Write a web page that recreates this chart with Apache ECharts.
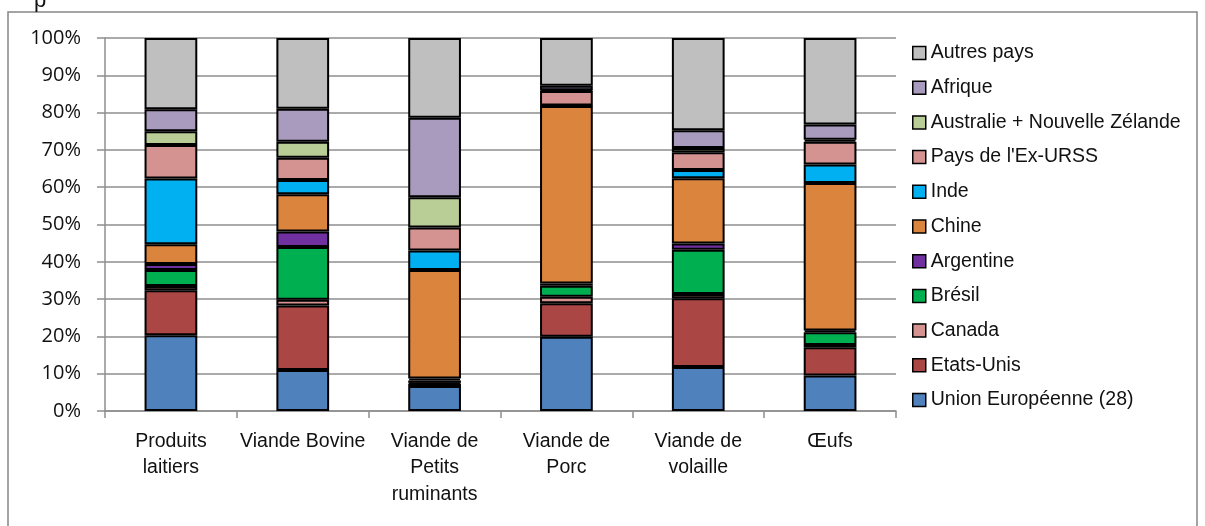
<!DOCTYPE html>
<html>
<head>
<meta charset="utf-8">
<script src="https://cdn.jsdelivr.net/npm/echarts@6.0.0/dist/echarts.min.js"></script>
<style>
  html, body { margin: 0; padding: 0; background: #fff; }
  #main { width: 1205px; height: 526px; }
</style>
</head>
<body>
<div id="main"></div>
<script>
// categories (x axis)
const categories = ['Produits\nlaitiers', 'Viande Bovine', 'Viande de\nPetits\nruminants', 'Viande de\nPorc', 'Viande de\nvolaille', 'Œufs']

// shares in %, bottom to top of each bar
const unionEuropeenne = [20.3, 11.0, 6.7, 19.9, 11.8, 9.5]
const etatsUnis = [12.1, 17.3, 0.6, 9.0, 18.4, 7.6]
const canada = [1.1, 1.5, 0.3, 1.7, 1.2, 0.6]
const bresil = [4.3, 14.2, 0.6, 3.0, 11.8, 3.4]
const argentine = [1.6, 4.1, 0.5, 0.6, 1.7, 0.5]
const chine = [5.3, 10.0, 29.1, 47.6, 17.5, 39.5]
const inde = [17.6, 3.8, 5.2, 0.1, 2.2, 5.0]
const exUrss = [9.0, 6.0, 6.2, 3.9, 4.8, 6.1]
const australieNz = [3.7, 4.3, 8.1, 0.2, 1.1, 0.5]
const afrique = [5.9, 8.8, 21.3, 1.2, 4.8, 4.1]
const autresPays = [19.1, 19.0, 21.4, 12.8, 24.7, 23.2]

const yTicks = [0, 10, 20, 30, 40, 50, 60, 70, 80, 90, 100]

const seriesDefs = [
  { name: 'Union Européenne (28)', data: unionEuropeenne, color: '#4F81BD' },
  { name: 'Etats-Unis', data: etatsUnis, color: '#AA4643' },
  { name: 'Canada', data: canada, color: '#D49290' },
  { name: 'Brésil', data: bresil, color: '#00B050' },
  { name: 'Argentine', data: argentine, color: '#7030A0' },
  { name: 'Chine', data: chine, color: '#DB843D' },
  { name: 'Inde', data: inde, color: '#00B0F0' },
  { name: "Pays de l'Ex-URSS", data: exUrss, color: '#D49290' },
  { name: 'Australie + Nouvelle Zélande', data: australieNz, color: '#B9CD96' },
  { name: 'Afrique', data: afrique, color: '#A99BBD' },
  { name: 'Autres pays', data: autresPays, color: '#BFBFBF' }
]

const textFont = "'Liberation Sans', Arial, sans-serif"

const myChart = echarts.init(document.getElementById('main'), null, { renderer: 'canvas' })
myChart.setOption({
  animation: false,
  backgroundColor: '#fff',
  graphic: [
    {
      type: 'rect',
      shape: { x: 8, y: 12, width: 1189, height: 540 },
      style: { fill: 'none', stroke: '#868686', lineWidth: 1.5 },
      silent: true
    },
    {
      // cut-off title fragment at the very top
      type: 'text',
      left: 34,
      top: -10,
      style: { text: 'p', font: "22px 'Liberation Sans', sans-serif", fill: '#111' },
      silent: true
    }
  ],
  grid: { left: 105, top: 38, width: 791, height: 373, containLabel: false },
  legend: {
    orient: 'vertical',
    left: 912,
    top: 41,
    padding: 0,
    itemWidth: 13,
    itemHeight: 13,
    itemGap: 10.7,
    icon: 'rect',
    data: seriesDefs.map(s => s.name).reverse(),
    itemStyle: { borderColor: '#000', borderWidth: 1.5 },
    textStyle: { fontFamily: textFont, fontSize: 19.5, color: '#111', lineHeight: 24 }
  },
  xAxis: {
    type: 'category',
    data: categories,
    axisLine: { lineStyle: { color: '#8e8e8e', width: 1.5 } },
    axisTick: { show: true, length: 7, lineStyle: { color: '#8e8e8e', width: 1.5 } },
    axisLabel: {
      interval: 0,
      margin: 17,
      fontFamily: textFont,
      fontSize: 19.5,
      lineHeight: 26.5,
      color: '#111'
    }
  },
  yAxis: {
    type: 'value',
    min: yTicks[0],
    max: yTicks[yTicks.length - 1],
    interval: 10,
    axisLine: { show: true, lineStyle: { color: '#8e8e8e', width: 1.5 } },
    axisTick: { show: true, length: 8, lineStyle: { color: '#8e8e8e', width: 1.5 } },
    splitLine: { lineStyle: { color: '#8e8e8e', width: 1.5 } },
    axisLabel: {
      margin: 24,
      formatter: '{value}%',
      fontFamily: "'Open Sans', sans-serif",
      fontSize: 20,
      color: '#111'
    }
  },
  series: seriesDefs.map(s => ({
    name: s.name,
    type: 'bar',
    stack: 'total',
    barWidth: '40%',
    data: s.data,
    itemStyle: { color: s.color, borderColor: '#000', borderWidth: 2 }
  }))
})
</script>
</body>
</html>
